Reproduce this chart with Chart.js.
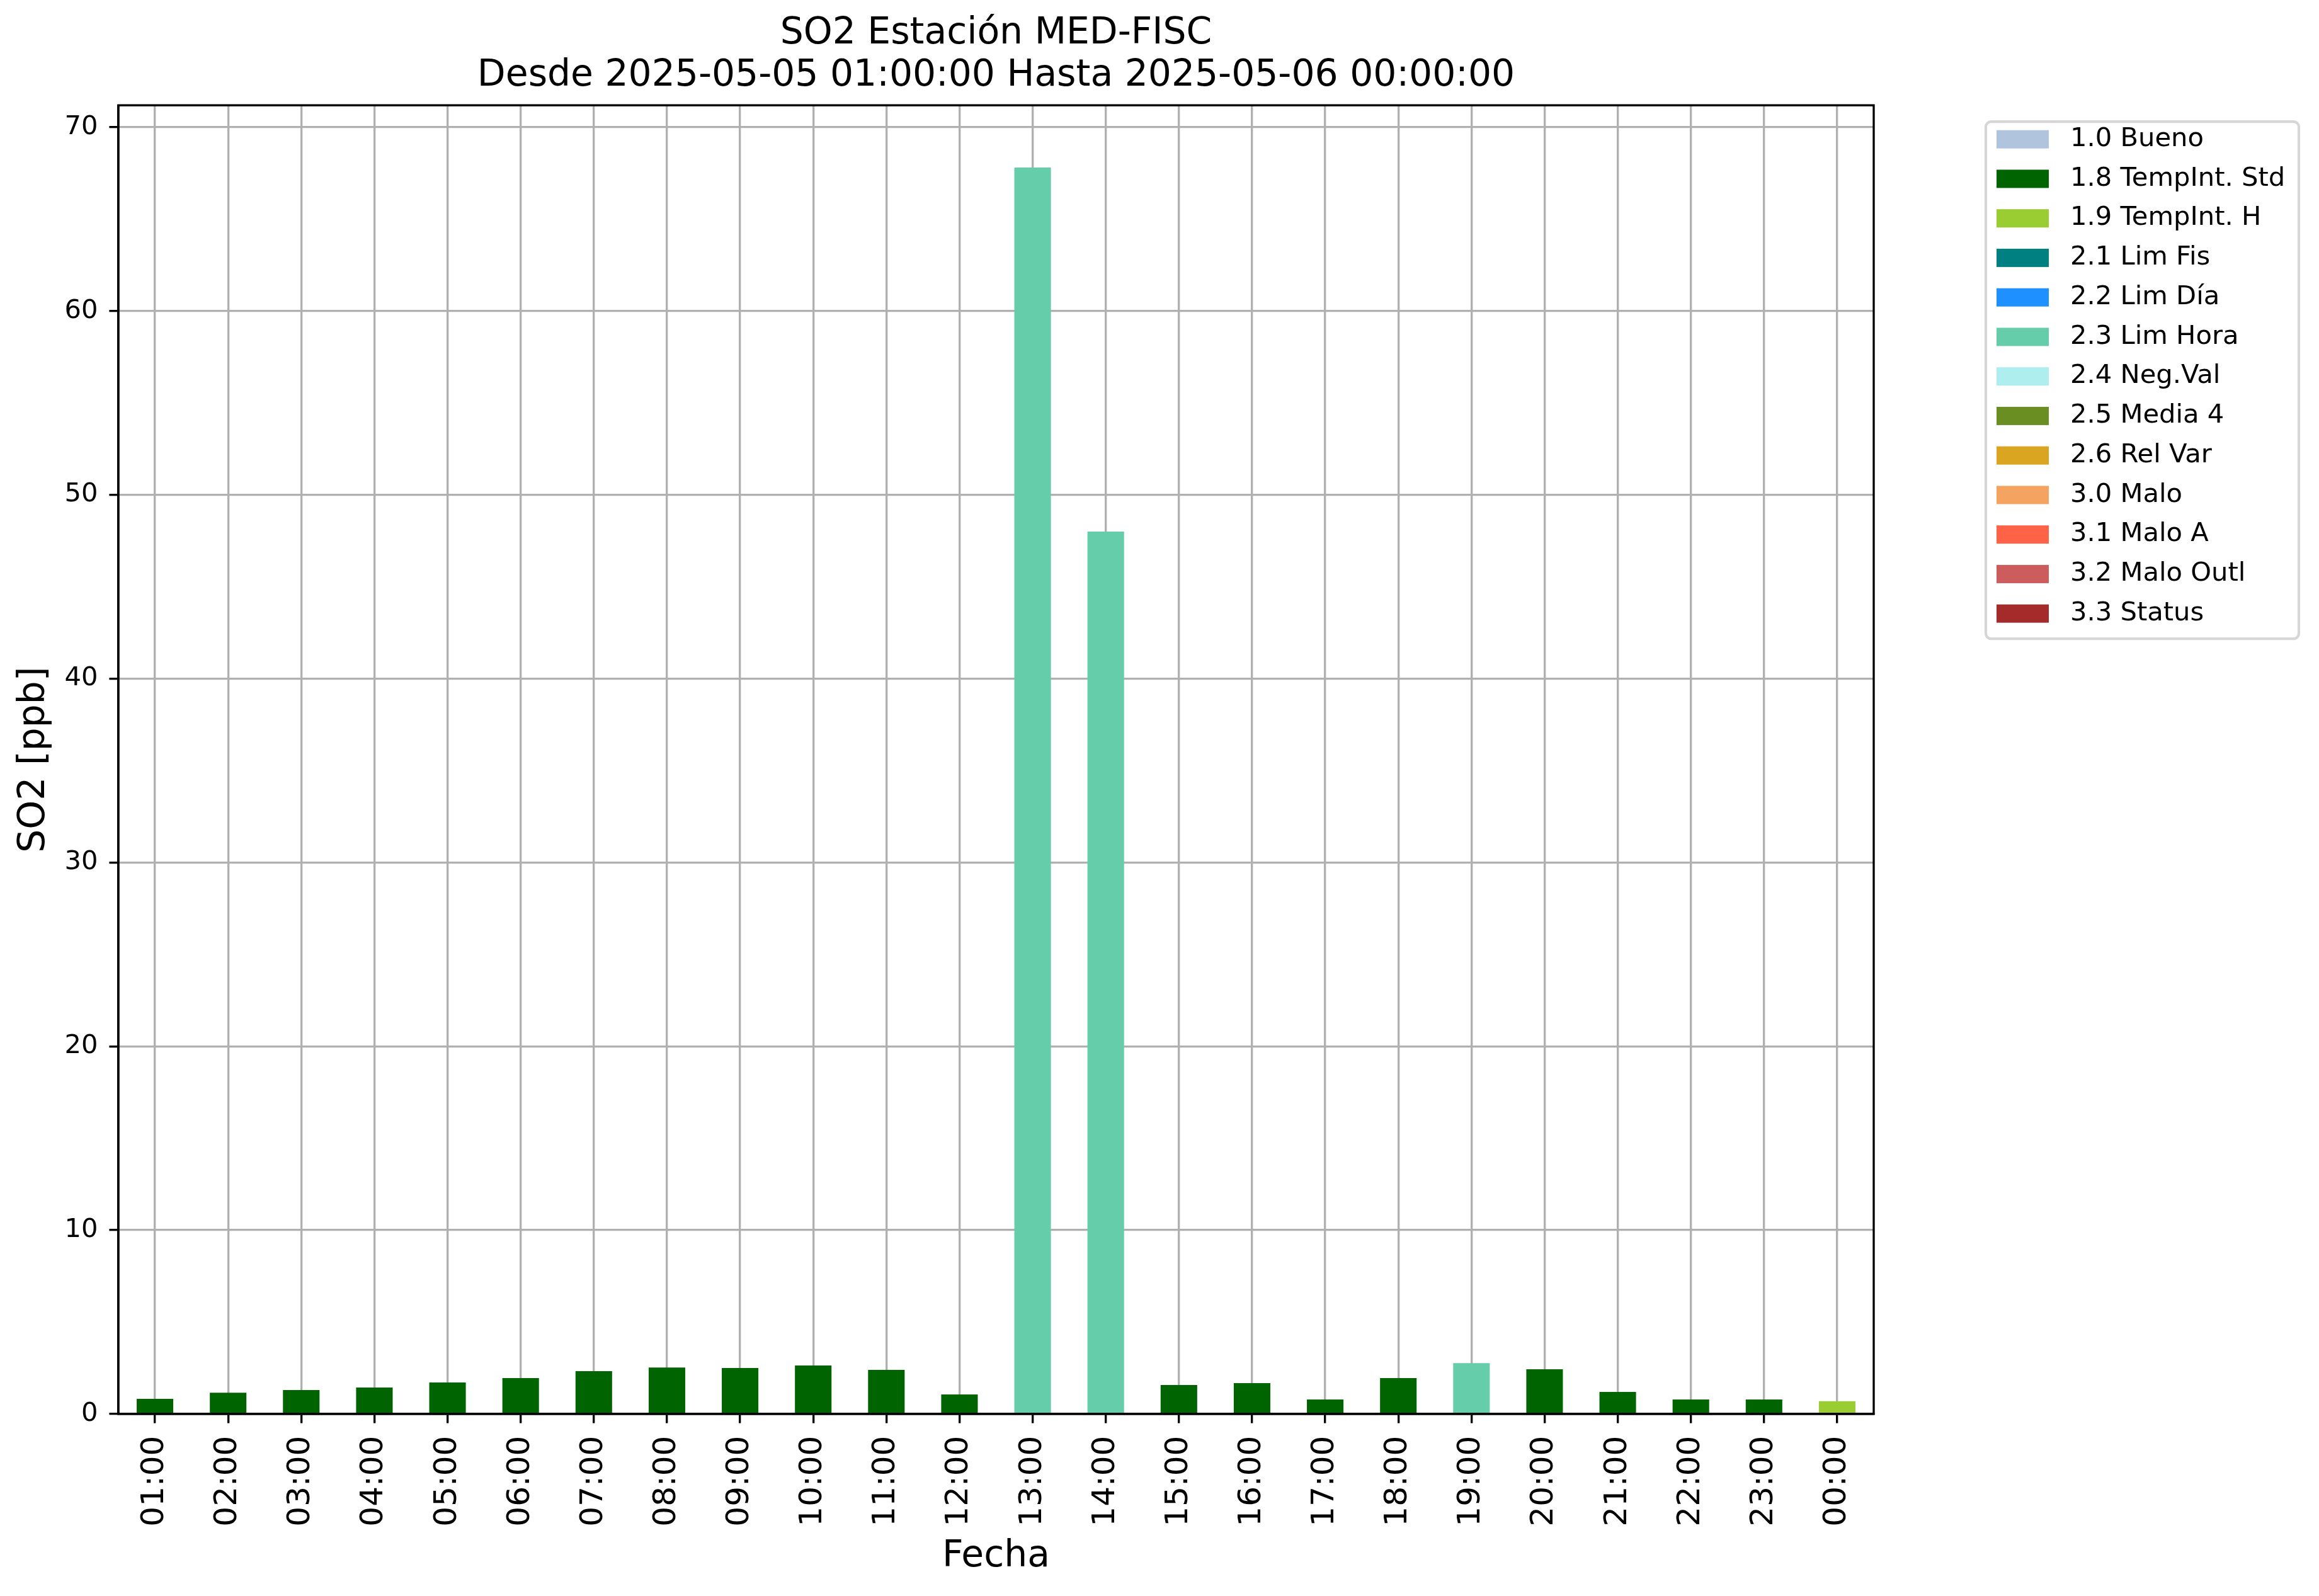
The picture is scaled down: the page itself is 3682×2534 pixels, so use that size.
<!DOCTYPE html>
<html lang="es">
<head>
<meta charset="utf-8">
<title>SO2 Estación MED-FISC</title>
<script src="https://cdn.jsdelivr.net/npm/chart.js@4.4.1/dist/chart.umd.min.js"></script>
<style>
  html, body { margin: 0; padding: 0; background: #fff; }
  #contenedor { width: 3682px; height: 2534px; }
</style>
</head>
<body>
<div id="contenedor"><canvas id="grafico-so2" width="3682" height="2534"></canvas></div>
<script>
// horas del día (eje x)
const horas = [
  '01:00', '02:00', '03:00', '04:00', '05:00', '06:00', '07:00', '08:00',
  '09:00', '10:00', '11:00', '12:00', '13:00', '14:00', '15:00', '16:00',
  '17:00', '18:00', '19:00', '20:00', '21:00', '22:00', '23:00', '00:00',
];

// SO2 [ppb]
const valoresSO2 = [
  0.82, 1.16, 1.30, 1.44, 1.71, 1.95, 2.33, 2.53,
  2.50, 2.64, 2.40, 1.06, 67.8, 48.0, 1.58, 1.68,
  0.79, 1.95, 2.77, 2.43, 1.20, 0.79, 0.79, 0.69,
];

// bandera de calidad de cada hora
const banderasHora = [
  '1.8', '1.8', '1.8', '1.8', '1.8', '1.8', '1.8', '1.8',
  '1.8', '1.8', '1.8', '1.8', '2.3', '2.3', '1.8', '1.8',
  '1.8', '1.8', '2.3', '1.8', '1.8', '1.8', '1.8', '1.9',
];

const codigosBandera = ['1.0', '1.8', '1.9', '2.1', '2.2', '2.3', '2.4', '2.5', '2.6', '3.0', '3.1', '3.2', '3.3'];
const nombresBandera = ['Bueno', 'TempInt. Std', 'TempInt. H', 'Lim Fis', 'Lim Día', 'Lim Hora', 'Neg.Val', 'Media 4', 'Rel Var', 'Malo', 'Malo A', 'Malo Outl', 'Status'];
const coloresBandera = [
  '#b0c4de', '#006400', '#9acd32', '#008080', '#1e90ff', '#66cdaa', '#afeeee',
  '#6b8e23', '#daa520', '#f4a460', '#ff6347', '#cd5c5c', '#a52a2a',
];

const ticksY = [0, 10, 20, 30, 40, 50, 60, 70];
const maxY = 71.19;

const titulo = [
  'SO2 Estación MED-FISC',
  'Desde 2025-05-05 01:00:00 Hasta 2025-05-06 00:00:00',
];

const PT = 300 / 72; // la figura original es de 300 dpi

Chart.defaults.font.family = "'DejaVu Sans', sans-serif";
Chart.defaults.color = '#000';

const datasets = codigosBandera.map((codigo, k) => ({
  label: codigo + ' ' + nombresBandera[k],
  data: valoresSO2.map((valor, i) => (banderasHora[i] === codigo ? valor : null)),
  backgroundColor: coloresBandera[k],
  borderWidth: 0,
  barPercentage: 0.5,
  categoryPercentage: 1.0,
}));

// marco completo de los ejes (arriba y derecha incluidos)
const marcoEjes = {
  id: 'marcoEjes',
  afterDraw(chart) {
    const { ctx, chartArea } = chart;
    ctx.save();
    ctx.strokeStyle = '#000';
    ctx.lineWidth = 0.8 * PT;
    ctx.strokeRect(chartArea.left, chartArea.top, chartArea.right - chartArea.left, chartArea.bottom - chartArea.top);
    ctx.restore();
  },
};

// leyenda fuera del eje, a la derecha, como la de matplotlib
const leyendaExterna = {
  id: 'leyendaExterna',
  afterDraw(chart) {
    const { ctx, chartArea } = chart;
    const tam = 10 * PT;
    const x0 = chartArea.right + 178;
    const y0 = chartArea.top + 26;
    const ancho = 497;
    const alto = 821;
    const r = 0.2 * tam;

    ctx.save();
    ctx.beginPath();
    ctx.moveTo(x0 + r, y0);
    ctx.arcTo(x0 + ancho, y0, x0 + ancho, y0 + alto, r);
    ctx.arcTo(x0 + ancho, y0 + alto, x0, y0 + alto, r);
    ctx.arcTo(x0, y0 + alto, x0, y0, r);
    ctx.arcTo(x0, y0, x0 + ancho, y0, r);
    ctx.closePath();
    ctx.fillStyle = 'rgba(255,255,255,0.8)';
    ctx.fill();
    ctx.strokeStyle = '#d6d6d6';
    ctx.lineWidth = 1.0 * PT;
    ctx.stroke();

    ctx.font = tam + "px 'DejaVu Sans'";
    ctx.textBaseline = 'middle';
    ctx.textAlign = 'left';
    chart.data.datasets.forEach((ds, i) => {
      const cy = y0 + 28 + i * 62.75;
      ctx.fillStyle = ds.backgroundColor;
      ctx.fillRect(x0 + 17, cy - 14.5, 83, 29);
      ctx.fillStyle = '#000';
      ctx.fillText(ds.label, x0 + 134, cy);
    });
    ctx.restore();
  },
};

const lienzo = document.getElementById('grafico-so2');

new Chart(lienzo, {
  type: 'bar',
  data: { labels: horas, datasets: datasets },
  options: {
    responsive: false,
    animation: false,
    devicePixelRatio: 1,
    layout: { padding: { left: 0, right: 707, top: 0, bottom: 0 } },
    plugins: {
      legend: { display: false },
      tooltip: { enabled: false },
      title: {
        display: true,
        fullSize: false,
        text: titulo,
        color: '#000',
        font: { size: 14 * PT, weight: 'normal', lineHeight: 1.15 },
        padding: { top: 20, bottom: 13 },
      },
    },
    scales: {
      x: {
        stacked: true,
        z: 1,
        offset: true,
        grid: {
          offset: false,
          color: '#b0b0b0',
          lineWidth: 0.8 * PT,
          tickColor: '#000',
          tickWidth: 0.8 * PT,
          tickLength: 3.5 * PT,
        },
        border: { color: '#000', width: 0.8 * PT },
        ticks: {
          color: '#000',
          font: { size: 12 * PT },
          autoSkip: false,
          minRotation: 90,
          maxRotation: 90,
          padding: 20,
        },
        title: {
          display: true,
          text: 'Fecha',
          color: '#000',
          font: { size: 14 * PT },
          padding: { top: 0, bottom: 27 },
        },
        afterFit(scale) {
          scale.height = 289;
        },
      },
      y: {
        stacked: true,
        z: 1,
        min: 0,
        max: maxY,
        afterBuildTicks(axis) {
          axis.ticks = ticksY.map((v) => ({ value: v }));
        },
        grid: {
          color: '#b0b0b0',
          lineWidth: 0.8 * PT,
          tickColor: '#000',
          tickWidth: 0.8 * PT,
          tickLength: 3.5 * PT,
        },
        border: { color: '#000', width: 0.8 * PT },
        ticks: {
          color: '#000',
          font: { size: 10 * PT },
          padding: 18,
        },
        title: {
          display: true,
          text: 'SO2 [ppb]',
          color: '#000',
          font: { size: 14 * PT },
          padding: { top: 20, bottom: 0 },
        },
        afterFit(scale) {
          scale.width = 188;
        },
      },
    },
  },
  plugins: [marcoEjes, leyendaExterna],
});
</script>
</body>
</html>
